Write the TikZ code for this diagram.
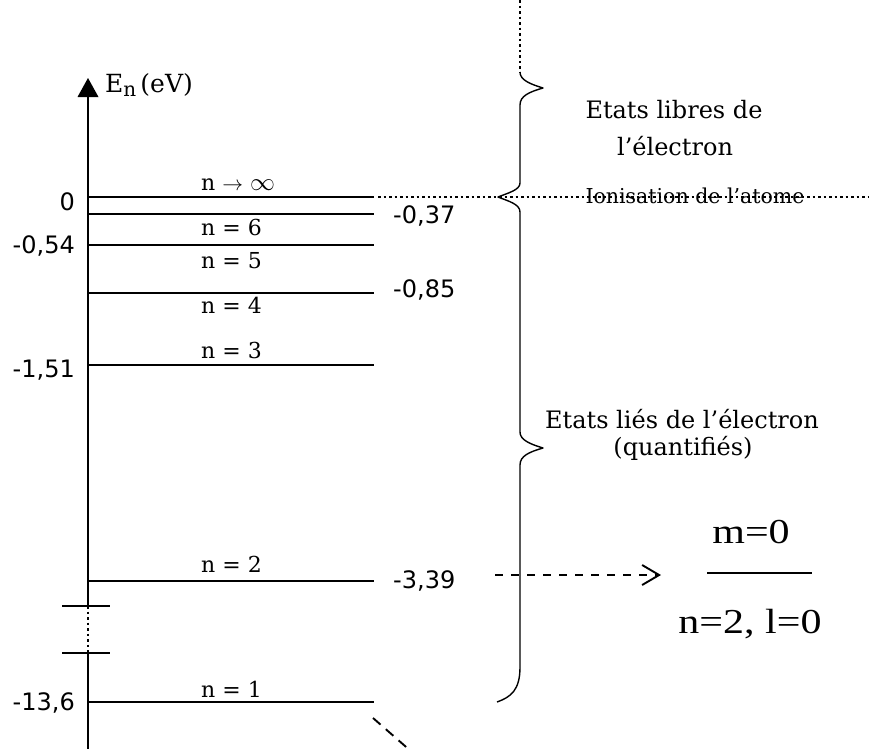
\documentclass[tikz,border=0pt]{standalone}
\usepackage{fontspec}
\setmainfont{DejaVu Serif}
\newfontfamily\labelsans{DejaVu Sans}
\newfontfamily\quantfont{Liberation Serif}
\usetikzlibrary{arrows.meta}

\begin{document}
\begin{tikzpicture}[x=1pt,y=-1pt,
  level/.style={line width=1.9pt},
  axisline/.style={line width=1.9pt},
  fineDots/.style={line width=1.2pt,dash pattern=on 2.5pt off 3pt},
  bracepath/.style={line width=1.4pt,line join=round},
  nlabel/.style={anchor=base west,inner sep=0pt,font=\fontsize{22}{26}\selectfont},
  leftval/.style={anchor=base east,inner sep=0pt,font=\labelsans\fontsize{24}{28}\selectfont},
  rightval/.style={anchor=base west,inner sep=0pt,font=\labelsans\fontsize{24}{28}\selectfont},
  statetext/.style={anchor=base,inner sep=0pt,font=\fontsize{24}{28}\selectfont},
  quant/.style={anchor=base,inner sep=0pt,font=\quantfont\fontsize{35}{40}\selectfont},
  dasharrow/.style={line width=1.9pt,dash pattern=on 8pt off 8pt,
    -{Straight Barb[length=17pt,width=20pt,line width=1.9pt]}},
  diagdash/.style={line width=1.9pt,dash pattern=on 10pt off 7pt}
]
\useasboundingbox (0,0) rectangle (869,748);

% energy axis
\coordinate (axTop) at (88,97);
\coordinate (axBot) at (88,750);
\coordinate (brkA) at (88,606);
\coordinate (brkB) at (88,653);
\draw[axisline] (axTop) -- (brkA);
\draw[axisline] (brkB) -- (axBot);
\draw[line width=1.4pt,dash pattern=on 2.5pt off 3pt] (brkA) -- (brkB);
\fill (88,78) -- (98.5,97) -- (77.5,97) -- cycle;
\draw[line width=1.7pt] ([xshift=-26pt]brkA) -- ([xshift=22pt]brkA);
\draw[line width=1.7pt] ([xshift=-26pt]brkB) -- ([xshift=22pt]brkB);
\node[anchor=base west,inner sep=0pt,font=\fontsize{25}{28}\selectfont] (axlab) at (105,92)
  {E\raisebox{-4pt}{\fontsize{20}{20}\selectfont n}\,(eV)};

% energy levels
\foreach \lv/\yy in {inf/197,six/214,five/245,four/293,three/365,two/581,one/702}{
  \coordinate (L\lv) at (88,\yy);
  \coordinate (R\lv) at (374,\yy);
  \draw[level] (L\lv) -- (R\lv);
}

% level names
\node[nlabel] (ninf) at (201,190) {n $\rightarrow$ {\fontsize{26}{26}\selectfont$\infty$}};
\node[nlabel] (n6) at (201,235) {n = 6};
\node[nlabel] (n5) at (201,268) {n = 5};
\node[nlabel] (n4) at (201,313) {n = 4};
\node[nlabel] (n3) at (201,358) {n = 3};
\node[nlabel] (n2) at (201,572) {n = 2};
\node[nlabel] (n1) at (201,697) {n = 1};

% energy values
\node[leftval] (v0) at (75,210) {0};
\node[leftval] (v054) at (75,253) {-0,54};
\node[leftval] (v151) at (75,377) {-1,51};
\node[leftval] (v136) at (75,710) {-13,6};
\node[rightval] (v037) at (393,223) {-0,37};
\node[rightval] (v085) at (393,297) {-0,85};
\node[rightval] (v339) at (393,588) {-3,39};

% ionisation threshold
\coordinate (ionS) at (378,197);
\coordinate (ionE) at (869,197);
\draw[fineDots] (ionS) -- (ionE);
\node[anchor=base,inner sep=0pt,font=\fontsize{20.5}{24}\selectfont] (ion) at (695,203)
  {Ionisation de l'atome};

% braces
\coordinate (brTop) at (520,0);
\coordinate (brA) at (520,72);
\draw[fineDots] (brTop) -- (brA);
\draw[bracepath] (brA) .. controls (520,80) and (530,84) .. (543,88)
  .. controls (529,92) and (520,96) .. (520,105)
  -- (520,183) .. controls (520,190) and (508,193) .. (498,197)
  .. controls (508,201) and (520,204) .. (520,212)
  -- (520,432) .. controls (520,440) and (530,444) .. (543,448)
  .. controls (529,452) and (520,456) .. (520,465)
  -- (520,667) .. controls (520,690) and (511,697) .. (497,702);

\node[statetext] (libre1) at (674,118) {Etats libres de};
\node[statetext] (libre2) at (675,155) {l'électron};
\node[statetext] (lie1) at (682,428) {Etats liés de l'électron};
\node[statetext] (lie2) at (683,455) {(quantifiés)};

% sublevel n=2, l=0, m=0
\coordinate (arrS) at (495,575);
\coordinate (arrT) at (661,575);
\draw[dasharrow] (arrS) -- (arrT);
\coordinate (subL) at (707,573);
\coordinate (subR) at (812,573);
\draw[line width=1.6pt] (subL) -- (subR);
\node[quant] (mq) at (751,543) {\scalebox{1.2}[1]{m=0}};
\node[quant] (nl) at (750,633) {\scalebox{1.2}[1]{n=2, l=0}};

% transition leaving the ground level
\coordinate (dgS) at (373,718);
\coordinate (dgE) at (413,753);
\draw[diagdash] (dgS) -- (dgE);
\end{tikzpicture}
\end{document}
